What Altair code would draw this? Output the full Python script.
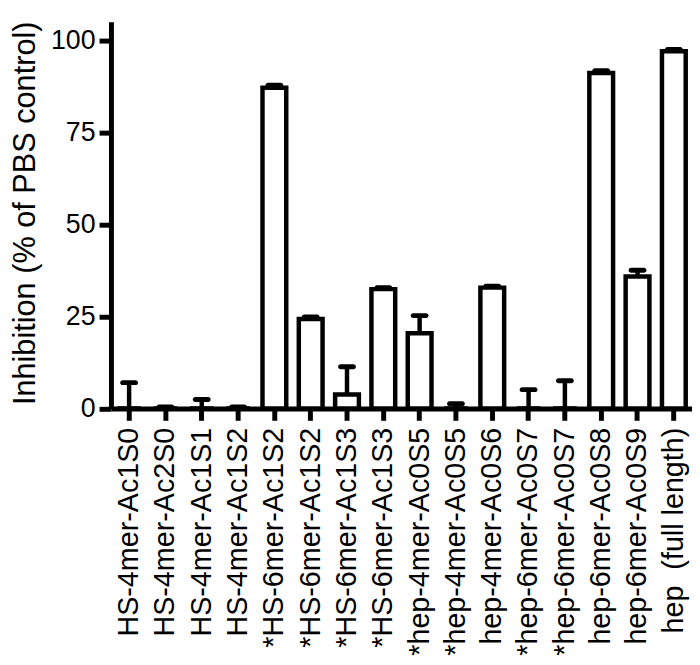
import json
import altair as alt
import pandas as pd

labels = [
    "HS-4mer-Ac1S0", "HS-4mer-Ac2S0", "HS-4mer-Ac1S1", "HS-4mer-Ac1S2",
    "*HS-6mer-Ac1S2", "*HS-6mer-Ac1S2", "*HS-6mer-Ac1S3", "*HS-6mer-Ac1S3",
    "*hep-4mer-Ac0S5", "*hep-4mer-Ac0S5", "hep-4mer-Ac0S6", "*hep-6mer-Ac0S7",
    "*hep-6mer-Ac0S7", "hep-6mer-Ac0S8", "hep-6mer-Ac0S9", "hep\u00a0 (full length)",
]
values = [0, 0, 0, 0, 87.1, 24.3, 3.8, 32.4, 20.4, 0, 32.8, 0, 0, 91.1, 35.8, 97.0]
errors = [7.0, 0.4, 2.4, 0.4, 0.7, 0.5, 7.5, 0.4, 4.8, 1.3, 0.4, 5.1, 7.5, 0.6, 1.7, 0.5]
y_ticks = [0, 25, 50, 75, 100]

df = pd.DataFrame({
    "idx": list(range(len(labels))),
    "label": labels,
    "value": values,
    "top": [v + e for v, e in zip(values, errors)],
})

FONT = "Liberation Sans"
label_expr = json.dumps(labels) + "[datum.value]"

x_enc = alt.X(
    "idx:O",
    scale=alt.Scale(paddingInner=0, paddingOuter=0),
    axis=alt.Axis(
        title=None,
        labelExpr=label_expr,
        labelAngle=-90,
        labelAlign="right",
        labelBaseline="middle",
        labelFont=FONT,
        labelFontSize=29,
        labelColor="black",
        labelPadding=7,
        labelLimit=400,
        tickSize=12,
        tickWidth=5,
        tickColor="black",
        domainWidth=5,
        domainColor="black",
    ),
)

y_scale = alt.Scale(domain=[0, 105], nice=False, zero=True)

bars = alt.Chart(df).mark_bar(
    width=24, fill="white", stroke="black", strokeWidth=4.5
).encode(
    x=x_enc,
    y=alt.Y(
        "value:Q",
        scale=y_scale,
        axis=alt.Axis(
            title="Inhibition (% of PBS control)",
            values=y_ticks,
            labelFont=FONT,
            labelFontSize=27,
            labelColor="black",
            labelPadding=4,
            tickSize=12,
            tickWidth=5,
            tickColor="black",
            domainWidth=5,
            domainColor="black",
            grid=False,
            titleFont=FONT,
            titleFontSize=31,
            titleFontWeight="normal",
            titleColor="black",
            titleAngle=-90,
            titleAlign="center",
            titleBaseline="alphabetic",
            titleX=-77,
            titleY=193,
        ),
    ),
)

stems = alt.Chart(df).mark_rule(stroke="black", strokeWidth=4.5).encode(
    x="idx:O",
    y=alt.Y("value:Q", scale=y_scale),
    y2="top:Q",
)

caps = alt.Chart(df).mark_tick(
    color="black", size=18, thickness=5, cornerRadius=2.5, opacity=1
).encode(
    x="idx:O",
    y=alt.Y("top:Q", scale=y_scale),
)

chart = alt.layer(bars, stems, caps).properties(
    width=587,
    height=390.6,
    padding={"left": 104, "top": 10.6, "right": 0, "bottom": 248},
    autosize=alt.AutoSizeParams(type="none"),
).configure_view(stroke=None)

chart.save("out.html", embed_options={"renderer": "svg", "actions": False})
